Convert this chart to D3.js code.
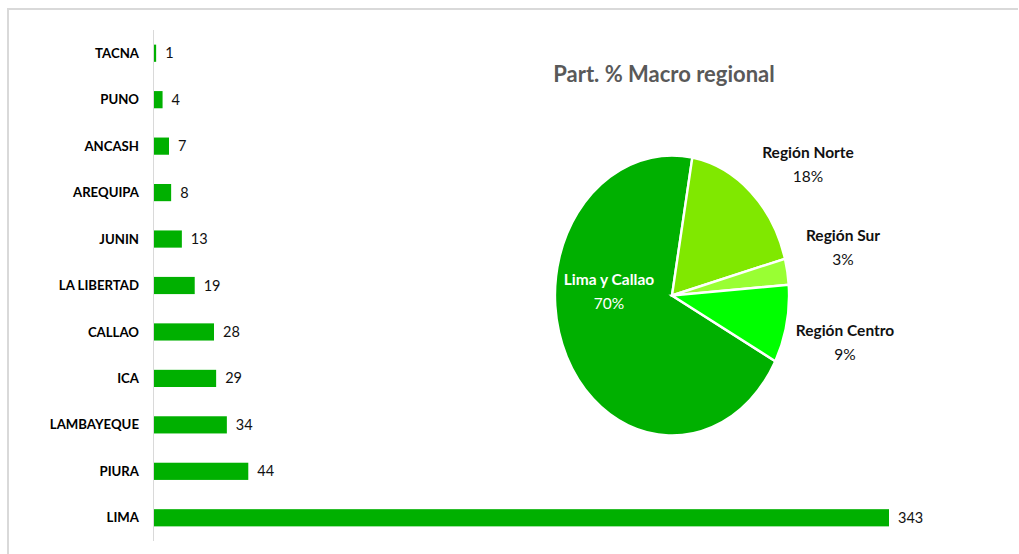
<!DOCTYPE html>
<meta charset="utf-8">
<script src="https://d3js.org/d3.v7.min.js"></script>
<style>
  body { margin: 0; background: #fff; }
  text { font-family: Lato, "Liberation Sans", sans-serif; }
</style>
<div id="chart"></div>
<script>
// bar data (departamentos)
const deptos = ["TACNA", "PUNO", "ANCASH", "AREQUIPA", "JUNIN", "LA LIBERTAD", "CALLAO", "ICA", "LAMBAYEQUE", "PIURA", "LIMA"];
const casos = [1, 4, 7, 8, 13, 19, 28, 29, 34, 44, 343];

// pie data (macro regiones)
const regiones = ["Lima y Callao", "Región Norte", "Región Sur", "Región Centro"];
const partPct = [70, 18, 3, 9];
const regColors = ["#00b000", "#80e800", "#99ff33", "#00ff00"];

const W = 1019, H = 554;
const svg = d3.select("#chart").append("svg")
  .attr("width", W).attr("height", H);

// chart frame
svg.append("path")
  .attr("d", "M8,554 L8,9 L1018,9")
  .attr("fill", "none")
  .attr("stroke", "#d9d9d9")
  .attr("stroke-width", 2);

// ---- bar chart ----
const x = d3.scaleLinear().domain([0, 343]).range([153, 888]);
const y = d3.scaleBand().domain(deptos).range([30, 541]).paddingInner(0.63).paddingOuter(0.315);

svg.append("line")
  .attr("x1", 153.5).attr("x2", 153.5)
  .attr("y1", 30).attr("y2", 541)
  .attr("stroke", "#d9d9d9");

svg.append("g").selectAll("rect")
  .data(deptos)
  .join("rect")
    .attr("x", x(0) + 1)
    .attr("y", d => y(d))
    .attr("width", (d, i) => x(casos[i]) - x(0))
    .attr("height", y.bandwidth())
    .attr("fill", "#00b000");

svg.append("g").selectAll("text")
  .data(deptos)
  .join("text")
    .attr("x", 139)
    .attr("y", d => y(d) + y.bandwidth() / 2)
    .attr("dy", "0.35em")
    .attr("text-anchor", "end")
    .attr("font-size", 13.2)
    .attr("font-weight", "bold")
    .attr("fill", "#000")
    .text(d => d);

svg.append("g").selectAll("text")
  .data(deptos)
  .join("text")
    .attr("x", (d, i) => x(casos[i]) + 10)
    .attr("y", d => y(d) + y.bandwidth() / 2)
    .attr("dy", "0.35em")
    .attr("font-size", 14.5)
    .attr("fill", "#111")
    .text((d, i) => casos[i]);

// ---- pie chart ----
svg.append("text")
  .attr("x", 664).attr("y", 82)
  .attr("text-anchor", "middle")
  .attr("font-size", 22)
  .attr("font-weight", "bold")
  .attr("fill", "#595959")
  .text("Part. % Macro regional");

const pieData = d3.pie().sort(null)
  .startAngle(118 * Math.PI / 180)
  .endAngle(478 * Math.PI / 180)(partPct);
const R = 140;
const arc = d3.arc().innerRadius(0).outerRadius(R);

const pieG = svg.append("g")
  .attr("transform", "translate(672,295.5) scale(0.836,1)");
pieG.selectAll("path")
  .data(pieData)
  .join("path")
    .attr("d", arc)
    .attr("fill", (d, i) => regColors[i])
    .attr("stroke", "#fff")
    .attr("stroke-width", 2.4)
    .attr("vector-effect", "non-scaling-stroke");

// labels
const labPos = [[609, 280], [808, 153], [843, 236], [845, 331]];
const labG = svg.append("g");
regiones.forEach((r, i) => {
  const t = labG.append("text")
    .attr("text-anchor", "middle")
    .attr("font-size", 15.5)
    .attr("fill", i === 0 ? "#fff" : "#111");
  t.append("tspan")
    .attr("x", labPos[i][0]).attr("y", labPos[i][1] + 5)
    .attr("font-weight", "bold")
    .text(r);
  t.append("tspan")
    .attr("x", labPos[i][0]).attr("y", labPos[i][1] + 29)
    .text(partPct[i] + "%");
});
</script>
